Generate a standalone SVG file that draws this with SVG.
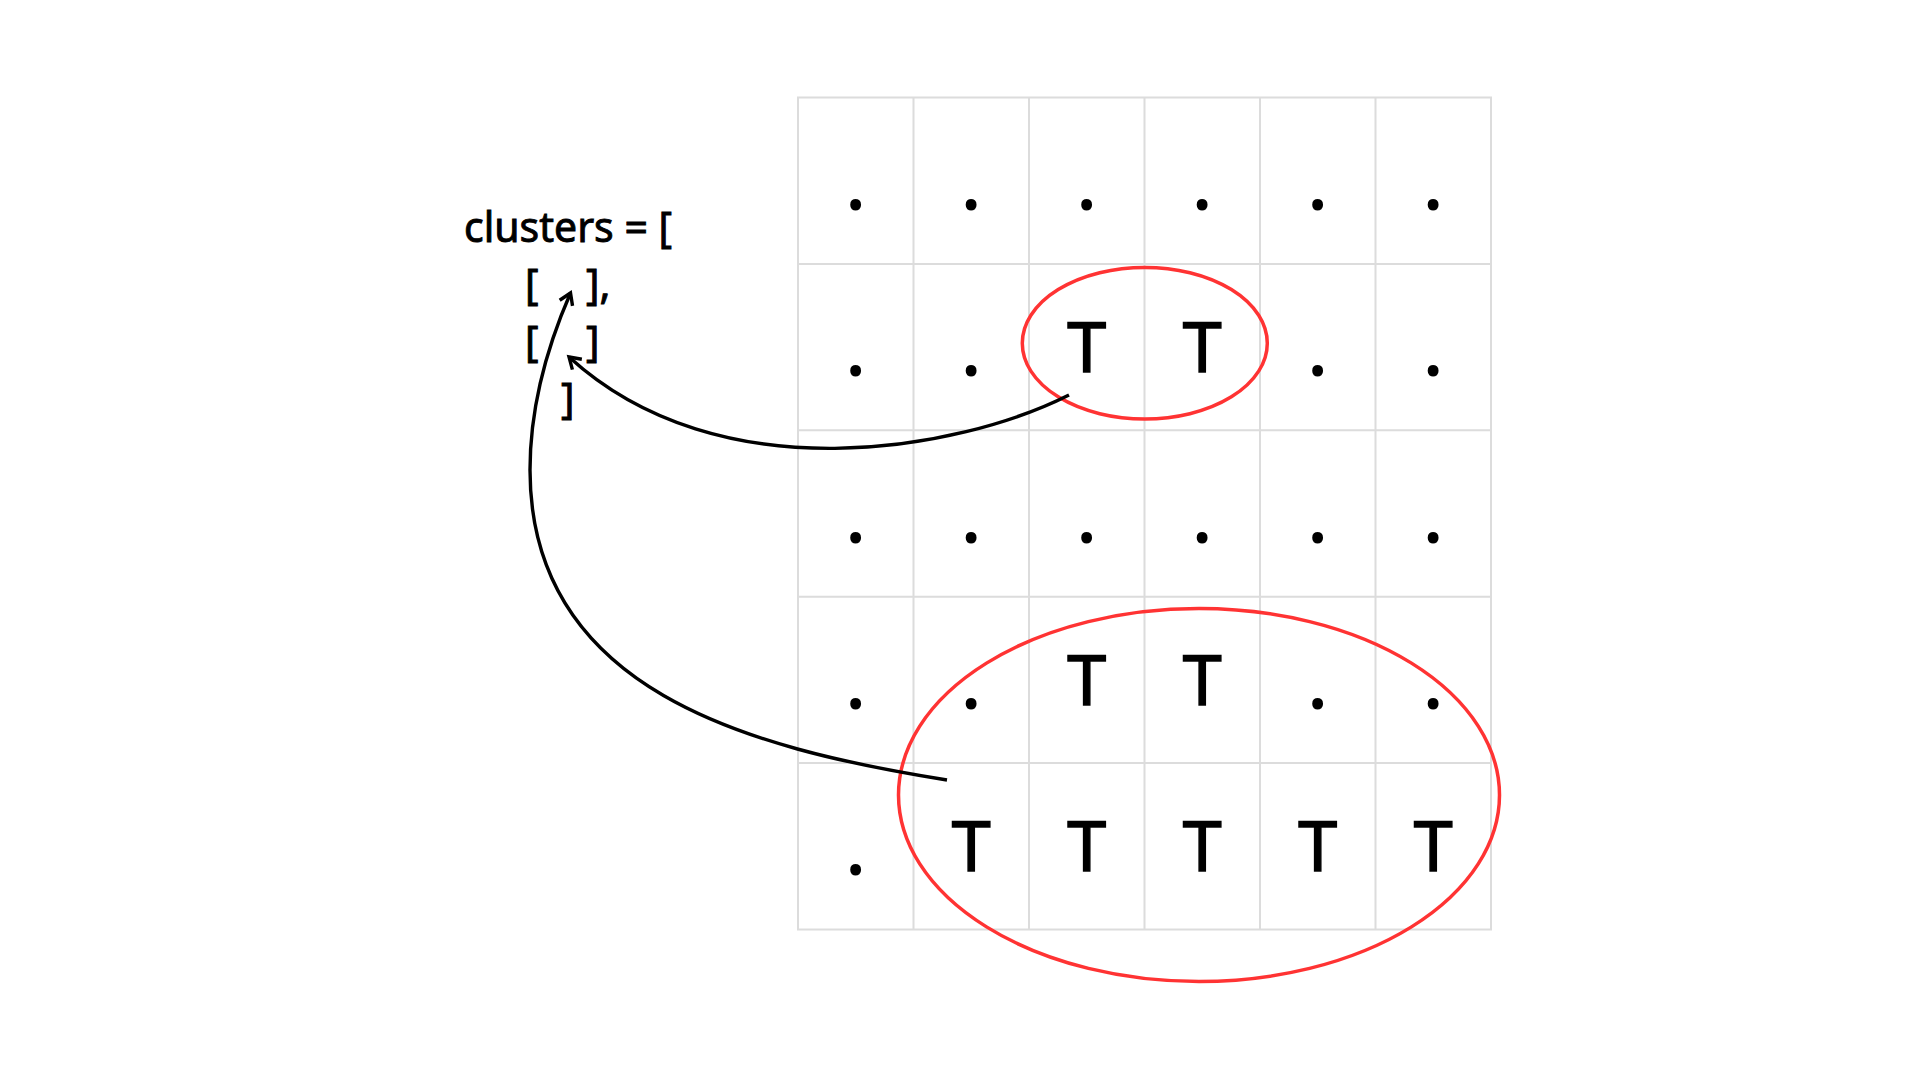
<svg xmlns="http://www.w3.org/2000/svg" width="1920" height="1080" viewBox="0 0 1920 1080">
<style>
.grid{stroke:#dcdcdc;stroke-width:2;fill:none}
.t{font-family:"Noto Sans","Liberation Sans",sans-serif;font-size:70px;text-anchor:middle;fill:#000;stroke:#000;stroke-width:1.4}
.d{font-family:"Noto Sans","Liberation Sans",sans-serif;font-size:70px;text-anchor:middle;fill:#000;stroke:#000;stroke-width:2.2;stroke-linejoin:round}
.code{font-family:"Noto Sans","Liberation Sans",sans-serif;font-size:41px;fill:#000;stroke:#000;stroke-width:0.9}
.cluster{fill:none;stroke:#ff3333;stroke-width:3.5}
.conn{fill:none;stroke:#000;stroke-width:3.4}
</style>
<defs>
<marker id="arrow" markerUnits="userSpaceOnUse" markerWidth="30" markerHeight="30" viewBox="-15 -15 30 30" refX="0" refY="0" orient="auto">
<path d="M-11,-7 L0,0 L-11,7" fill="none" stroke="#000" stroke-width="3.4" stroke-linejoin="miter"/>
</marker>
</defs>
<rect width="1920" height="1080" fill="#fff"/>
<g id="grid">
<rect class="grid" x="798" y="97.5" width="693" height="832"/>
<path class="grid" d="M913.5,97.5V929.5M1029,97.5V929.5M1144.5,97.5V929.5M1260,97.5V929.5M1375.5,97.5V929.5M798,263.9H1491M798,430.3H1491M798,596.7H1491M798,763.1H1491"/>
</g>
<g id="code">
<text class="code" x="464" y="242">clusters = [</text>
<text class="code" y="299"><tspan x="525">[</tspan><tspan x="586">],</tspan></text>
<text class="code" y="356"><tspan x="525">[</tspan><tspan x="586">]</tspan></text>
<text class="code" x="561" y="413">]</text>
</g>
<g id="cells">
<g id="r0">
<text class="d" x="855.75" y="208.7">.</text>
<text class="d" x="971.25" y="208.7">.</text>
<text class="d" x="1086.75" y="208.7">.</text>
<text class="d" x="1202.25" y="208.7">.</text>
<text class="d" x="1317.75" y="208.7">.</text>
<text class="d" x="1433.25" y="208.7">.</text>
</g>
<g id="r1">
<text class="d" x="855.75" y="375.1">.</text>
<text class="d" x="971.25" y="375.1">.</text>
<text class="t" x="1086.75" y="372.1">T</text>
<text class="t" x="1202.25" y="372.1">T</text>
<text class="d" x="1317.75" y="375.1">.</text>
<text class="d" x="1433.25" y="375.1">.</text>
</g>
<g id="r2">
<text class="d" x="855.75" y="541.5">.</text>
<text class="d" x="971.25" y="541.5">.</text>
<text class="d" x="1086.75" y="541.5">.</text>
<text class="d" x="1202.25" y="541.5">.</text>
<text class="d" x="1317.75" y="541.5">.</text>
<text class="d" x="1433.25" y="541.5">.</text>
</g>
<g id="r3">
<text class="d" x="855.75" y="707.9">.</text>
<text class="d" x="971.25" y="707.9">.</text>
<text class="t" x="1086.75" y="704.9">T</text>
<text class="t" x="1202.25" y="704.9">T</text>
<text class="d" x="1317.75" y="707.9">.</text>
<text class="d" x="1433.25" y="707.9">.</text>
</g>
<g id="r4">
<text class="d" x="855.75" y="874.3">.</text>
<text class="t" x="971.25" y="871.3">T</text>
<text class="t" x="1086.75" y="871.3">T</text>
<text class="t" x="1202.25" y="871.3">T</text>
<text class="t" x="1317.75" y="871.3">T</text>
<text class="t" x="1433.25" y="871.3">T</text>
</g>
</g>
<g id="cluster1"><ellipse class="cluster" cx="1144.8" cy="343.2" rx="122.5" ry="75.8"/></g>
<g id="cluster2"><ellipse class="cluster" cx="1199" cy="795" rx="300.5" ry="186.5"/></g>
<g id="connectors">
<path class="conn" marker-end="url(#arrow)" d="M1069,395 C960,450 720,495 569,357"/>
<path class="conn" marker-end="url(#arrow)" d="M947,780 C747,748 530,690 530,470 C530,400 550,340 570.5,293"/>
</g>
</svg>
